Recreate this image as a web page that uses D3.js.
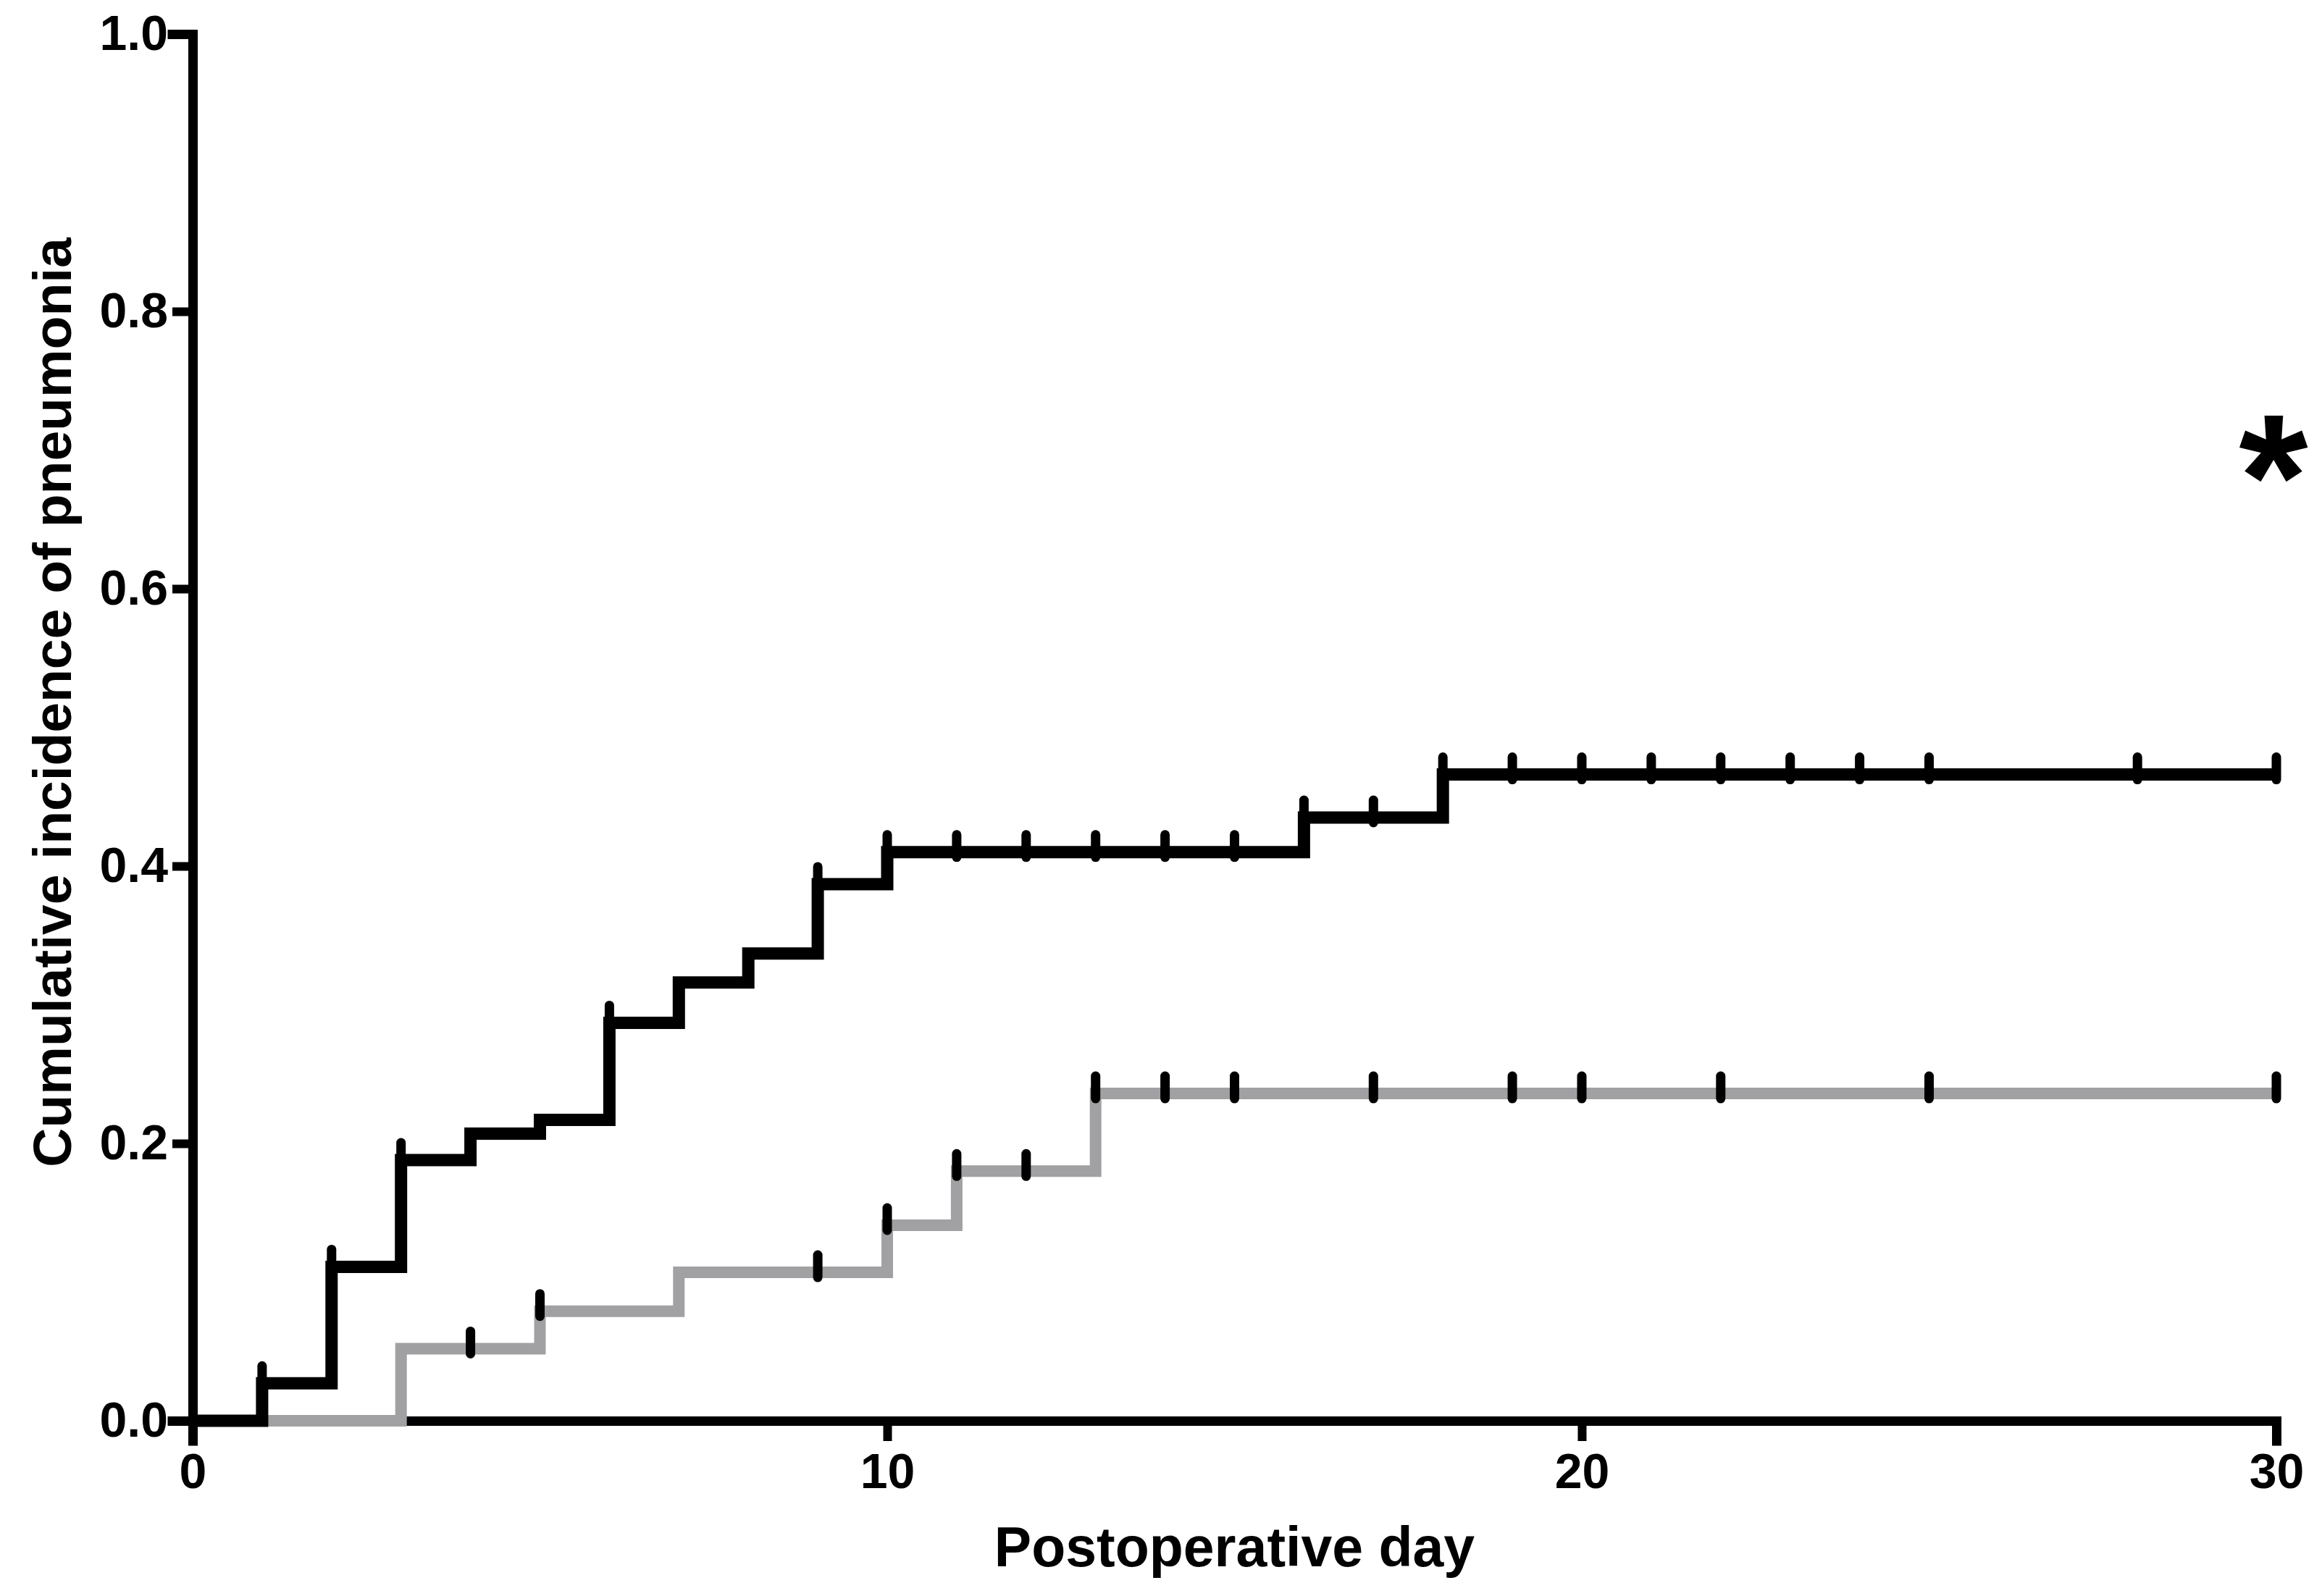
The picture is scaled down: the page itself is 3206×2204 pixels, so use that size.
<!DOCTYPE html>
<html>
<head>
<meta charset="utf-8">
<script src="https://cdn.jsdelivr.net/npm/d3@7"></script>
<style>
  html, body { margin: 0; padding: 0; background: #ffffff; }
  svg { display: block; }
  text { font-family: "Liberation Sans", Arial, Helvetica, sans-serif; font-weight: bold; fill: #000; }
</style>
</head>
<body>
<script>
// ---- Data ----
const blackDays = [0, 1, 2, 3, 4, 5, 6, 7, 8, 9, 10, 16, 18, 30];
const blackIncidence = [0, 0.027, 0.111, 0.188, 0.207, 0.217, 0.287, 0.316, 0.337, 0.387, 0.41, 0.435, 0.466, 0.466];
const grayDays = [0, 3, 5, 7, 10, 11, 13, 30];
const grayIncidence = [0, 0.052, 0.079, 0.107, 0.141, 0.18, 0.236, 0.236];
const blackCensored = [1, 2, 3, 6, 9, 10, 11, 12, 13, 14, 15, 16, 17, 18, 19, 20, 21, 22, 23, 24, 25, 28, 30];
const grayCensored = [4, 5, 9, 10, 11, 12, 13, 14, 15, 17, 19, 20, 22, 25, 30];
const xTicks = [0, 10, 20, 30];
const yTicks = [0, 0.2, 0.4, 0.6, 0.8, 1.0];
const xTitle = "Postoperative day";
const yTitle = "Cumulative incidence of pneumonia";
const annotation = "*";

// ---- Layout ----
const W = 3206, H = 2204;
const x = d3.scaleLinear().domain([0, 30]).range([266, 3143]);
const y = d3.scaleLinear().domain([0, 1]).range([1962, 47]);

const svg = d3.select("body").append("svg").attr("width", W).attr("height", H);

// axes
const axisW = 13;
const gx = svg.append("g").attr("transform", `translate(0,${y(0)})`)
  .call(d3.axisBottom(x).tickValues(xTicks).tickFormat(d3.format("d")).tickSizeOuter(0).tickSize(28).tickPadding(17));
const gy = svg.append("g").attr("transform", `translate(${x(0)},0)`)
  .call(d3.axisLeft(y).tickValues(yTicks).tickFormat(d3.format(".1f")).tickSizeOuter(0).tickSize(28).tickPadding(6));
[gx, gy].forEach(g => {
  g.select(".domain").attr("stroke", "#000").attr("stroke-width", axisW).attr("stroke-linecap", "square");
  g.selectAll(".tick line").attr("stroke", "#000").attr("stroke-width", axisW - 1);
  g.selectAll(".tick text").attr("font-size", 68).attr("font-family", "Liberation Sans, Arial, sans-serif")
    .attr("font-weight", "bold").attr("fill", "#000");
});

// step curves
const stepLine = d3.line().x(d => x(d[0])).y(d => y(d[1])).curve(d3.curveStepAfter);
const grayData = grayDays.map((d, i) => [d, grayIncidence[i]]);
const blackData = blackDays.map((d, i) => [d, blackIncidence[i]]);

svg.append("path").datum(grayData).attr("d", stepLine)
  .attr("fill", "none").attr("stroke", "#a1a1a4").attr("stroke-width", 16).attr("stroke-linejoin", "miter").attr("stroke-linecap", "butt");
svg.append("path").datum(blackData).attr("d", stepLine)
  .attr("fill", "none").attr("stroke", "#000").attr("stroke-width", 17).attr("stroke-linejoin", "miter").attr("stroke-linecap", "butt");

// censor marks
function valueAt(days, vals, t) {
  let v = vals[0];
  for (let i = 0; i < days.length; i++) if (days[i] <= t) v = vals[i];
  return v;
}
function drawCensor(list, days, vals) {
  svg.append("g").selectAll("line").data(list).join("line")
    .attr("x1", d => x(d)).attr("x2", d => x(d))
    .attr("y1", d => y(valueAt(days, vals, d)) + 7)
    .attr("y2", d => y(valueAt(days, vals, d)) - 24)
    .attr("stroke", "#000").attr("stroke-width", 13).attr("stroke-linecap", "round");
}
drawCensor(grayCensored, grayDays, grayIncidence);
drawCensor(blackCensored, blackDays, blackIncidence);

// titles
svg.append("text").attr("x", x(15)).attr("y", 2163).attr("text-anchor", "middle")
  .attr("font-size", 77).text(xTitle);
svg.append("text").attr("transform", `translate(98,970) rotate(-90)`).attr("text-anchor", "middle")
  .attr("font-size", 75).text(yTitle);

// significance asterisk
svg.append("text").attr("x", 3139).attr("y", 743).attr("text-anchor", "middle")
  .attr("font-size", 245).text(annotation);
</script>
</body>
</html>
